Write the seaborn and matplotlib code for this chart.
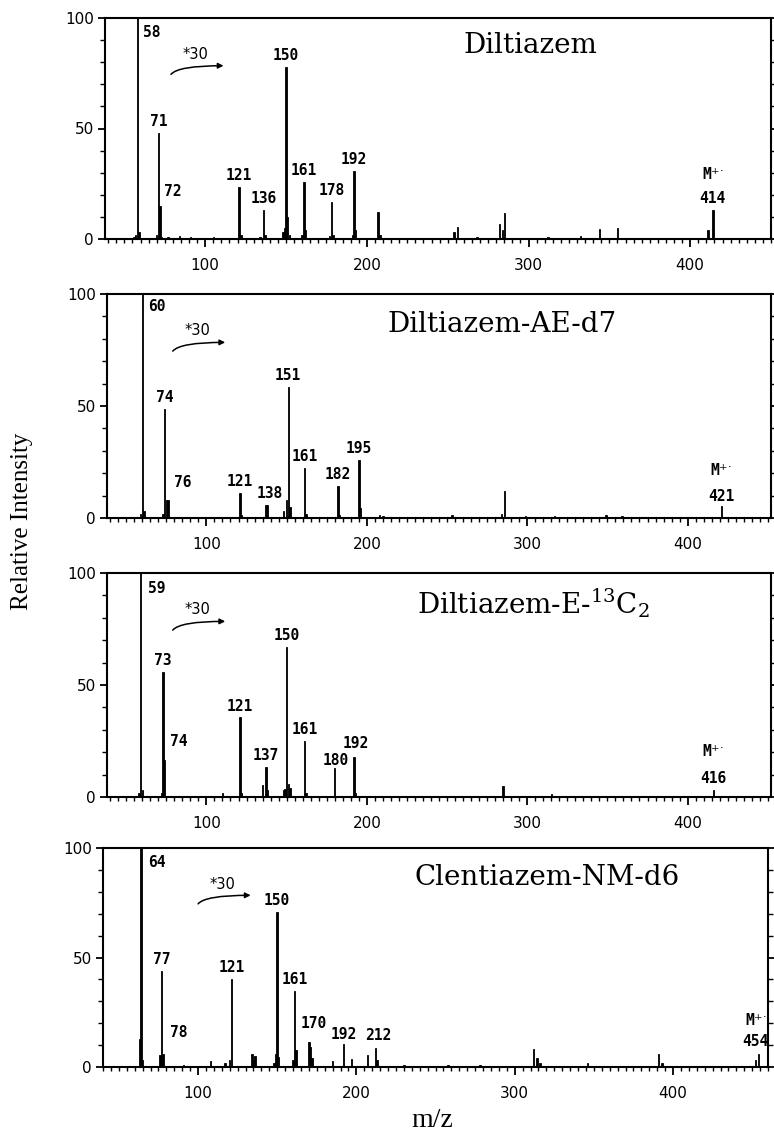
import numpy as np
import pandas as pd
import seaborn as sns
import matplotlib.pyplot as plt
from matplotlib.ticker import MultipleLocator, FixedLocator

# --- spectra (m/z, relative intensity) ---
names = ['Diltiazem', 'Diltiazem-AE-d7', r'Diltiazem-E-$^{13}$C$_2$', 'Clentiazem-NM-d6']

mz1 = [56, 57, 58, 59, 70, 71, 72, 73, 77, 84, 91, 105, 115, 121, 122, 134, 136, 137,
       148, 149, 150, 151, 152, 160, 161, 162, 177, 178, 179, 191, 192, 193, 207, 208,
       254, 256, 268, 282, 284, 285, 312, 332, 344, 355, 411, 414]
int1 = [1, 2, 100, 3, 2, 48, 15, 1, 0.8, 1.2, 0.7, 0.8, 0.5, 23.5, 2, 1, 13, 2,
        3, 5, 78, 10, 2, 2, 26, 4, 1.5, 16.7, 2, 2, 30.6, 4, 12, 2,
        3, 5.5, 1, 7, 4, 11.8, 1, 1.5, 4.5, 5, 4, 13]
lab1 = [58, 71, 72, 121, 136, 150, 161, 178, 192]
mol1 = 414

mz2 = [59, 60, 61, 73, 74, 75, 76, 121, 122, 137, 138, 148, 150, 151, 152, 161, 162,
       182, 183, 195, 196, 208, 210, 253, 284, 286, 299, 317, 349, 359, 421]
int2 = [2, 100, 3, 2, 48.6, 8, 8.2, 11.1, 1.5, 6, 6, 3, 8, 58.4, 5, 22.3, 2,
        14.4, 1.5, 26, 4.5, 1.5, 1, 1.5, 2, 11.9, 1, 1, 1.2, 1, 5.2]
lab2 = [60, 74, 76, 121, 138, 151, 161, 182, 195]
mol2 = 421

mz3 = [58, 59, 60, 72, 73, 74, 110, 121, 122, 135, 137, 138, 148, 149, 150, 151, 152,
       161, 162, 180, 192, 193, 285, 315, 416]
int3 = [2, 100, 3, 2, 55.7, 16.4, 2, 35.5, 2, 5.2, 13.4, 3, 3, 3.7, 66.9, 6, 4,
        25, 2, 13.1, 17.9, 2, 5, 1.2, 3]
lab3 = [59, 73, 74, 121, 137, 150, 161, 180, 192]
mol3 = 416

mz4 = [63, 64, 65, 76, 77, 78, 91, 108, 117, 120, 121, 134, 135, 136, 148, 149, 150,
       151, 160, 161, 162, 170, 171, 172, 185, 192, 197, 207, 212, 213, 230, 258, 278,
       312, 314, 316, 346, 391, 393, 452, 454]
int4 = [13, 100, 3, 5.3, 44, 6, 1, 2.7, 2, 3, 40.2, 5.8, 3, 5, 2, 6, 71,
        4.6, 3, 34.8, 7.6, 11.3, 9, 4, 2.6, 10.7, 3.7, 5.3, 8.7, 3, 1, 1, 1,
        8.2, 4, 2, 2, 6, 2, 3, 6]
lab4 = [64, 77, 78, 121, 150, 161, 170, 192, 212]
mol4 = 454

spectra = [(mz1, int1, lab1, mol1), (mz2, int2, lab2, mol2),
           (mz3, int3, lab3, mol3), (mz4, int4, lab4, mol4)]

# --- layout (pixel boxes of the four panels: left, top, right, bottom) ---
W, H = 774, 1134
boxes = [(105, 18, 771, 239), (107, 294, 771, 518), (107, 573, 771, 797), (103, 848, 768, 1067)]
xlims = [(38, 450), (38, 452), (38, 452), (40, 460)]
title_pos = [(0.5375, 0.842), (0.4217, 0.830), (0.467, 0.821), (0.469, 0.831)]
hook_dx = [0.0, 0.0, 0.0, 0.044]
# label offsets in points (dx, dy, ha); default is centred 5 pt above the peak
label_off = [
    {58: (4, -14, 'left'), 72: (3, 7, 'left')},
    {60: (4, -12, 'left'), 76: (4, 9, 'left'), 138: (2, 5, 'center')},
    {59: (5, -14.5, 'left'), 74: (3.5, 10, 'left'), 180: (1, 2, 'center'), 192: (1, 6.5, 'center')},
    {64: (5, -14, 'left'), 78: (5, 12, 'left'), 170: (3.6, 10, 'center'),
     192: (0, 3.6, 'center'), 212: (2.4, 5.5, 'center')},
]
mol_off = [(0, 5.3, 22), (0, 3.5, 21.6), (0, 5.3, 24), (-2, 6, 20)]

sns.set_style('ticks')
plt.rcParams['font.family'] = ['DejaVu Sans']
plt.rcParams['mathtext.fontset'] = 'dejavuserif'
for key in ['axes.edgecolor', 'text.color', 'xtick.color', 'ytick.color', 'axes.labelcolor']:
    plt.rcParams[key] = 'black'

fig = plt.figure(figsize=(W / 100, H / 100), dpi=100)

for i, (mz, inten, labs, mol) in enumerate(spectra):
    l, t, r, b = boxes[i]
    ax = fig.add_axes([l / W, 1 - b / H, (r - l) / W, (b - t) / H])
    df = pd.DataFrame({'mz': mz, 'intensity': inten})
    sns.histplot(data=df, x='mz', weights='intensity', discrete=True, shrink=0.9,
                 color='black', edgecolor='black', linewidth=0.6, alpha=1, ax=ax)
    ax.set_xlim(*xlims[i])
    ax.set_ylim(0, 100)
    ax.set_xlabel('')
    ax.set_ylabel('')

    for s in ax.spines.values():
        s.set_linewidth(1.5)
        s.set_visible(True)

    ax.xaxis.set_major_locator(MultipleLocator(100))
    ax.xaxis.set_minor_locator(MultipleLocator(5))
    ax.yaxis.set_major_locator(FixedLocator([0, 50, 100]))
    ax.yaxis.set_minor_locator(MultipleLocator(10))
    ax.tick_params(axis='x', which='major', direction='out', length=6, width=1.3,
                   labelsize=11, pad=8)
    ax.tick_params(axis='x', which='minor', direction='out', length=3, width=1)
    ax.tick_params(axis='y', which='major', direction='out', length=5, width=1.3,
                   labelsize=11, pad=3, right=True)
    ax.tick_params(axis='y', which='minor', direction='out', length=3.5, width=1, right=True)

    # peak labels
    lookup = dict(zip(mz, inten))
    for m in labs:
        dx, dy, ha = label_off[i].get(m, (0, 5, 'center'))
        ax.annotate(str(m), xy=(m, lookup[m]), xytext=(dx, dy), textcoords='offset points',
                    ha=ha, va='baseline', fontsize=10.5, fontweight='bold',
                    family='DejaVu Sans Mono')
    dx, dy1, dy2 = mol_off[i]
    ax.annotate(str(mol), xy=(mol, lookup[mol]), xytext=(dx, dy1), textcoords='offset points',
                ha='center', va='baseline', fontsize=10.5, fontweight='bold',
                family='DejaVu Sans Mono')
    ax.annotate(r'M$^{+\!\cdot}$', xy=(mol, lookup[mol]), xytext=(dx, dy2),
                textcoords='offset points', ha='center', va='baseline', fontsize=10.5,
                fontweight='bold', family='DejaVu Sans Mono')

    # compound name
    tx, ty = title_pos[i]
    ax.text(tx, ty, names[i], transform=ax.transAxes, ha='left', va='baseline',
            fontsize=20, family='DejaVu Serif')

    # "*30" marker with hooked arrow
    o = hook_dx[i]
    ax.text(0.136 + o, 0.815, '*30', transform=ax.transAxes, ha='center', va='baseline',
            fontsize=10.5)
    ax.annotate('', xy=(0.178 + o, 0.784), xytext=(0.099 + o, 0.745),
                xycoords='axes fraction', textcoords='axes fraction',
                arrowprops=dict(arrowstyle='-|>', connectionstyle='angle3,angleA=50,angleB=0',
                                lw=1.1, color='black', mutation_scale=8,
                                shrinkA=0, shrinkB=0))

fig.text(22 / W, 1 - 521 / H, 'Relative Intensity', rotation=90, ha='center', va='center',
         fontsize=18, family='Liberation Serif')
fig.text(432 / W, 1 - 1127 / H, 'm/z', ha='center', va='baseline',
         fontsize=20, family='Liberation Serif')

fig.savefig('out.png', dpi=100)
